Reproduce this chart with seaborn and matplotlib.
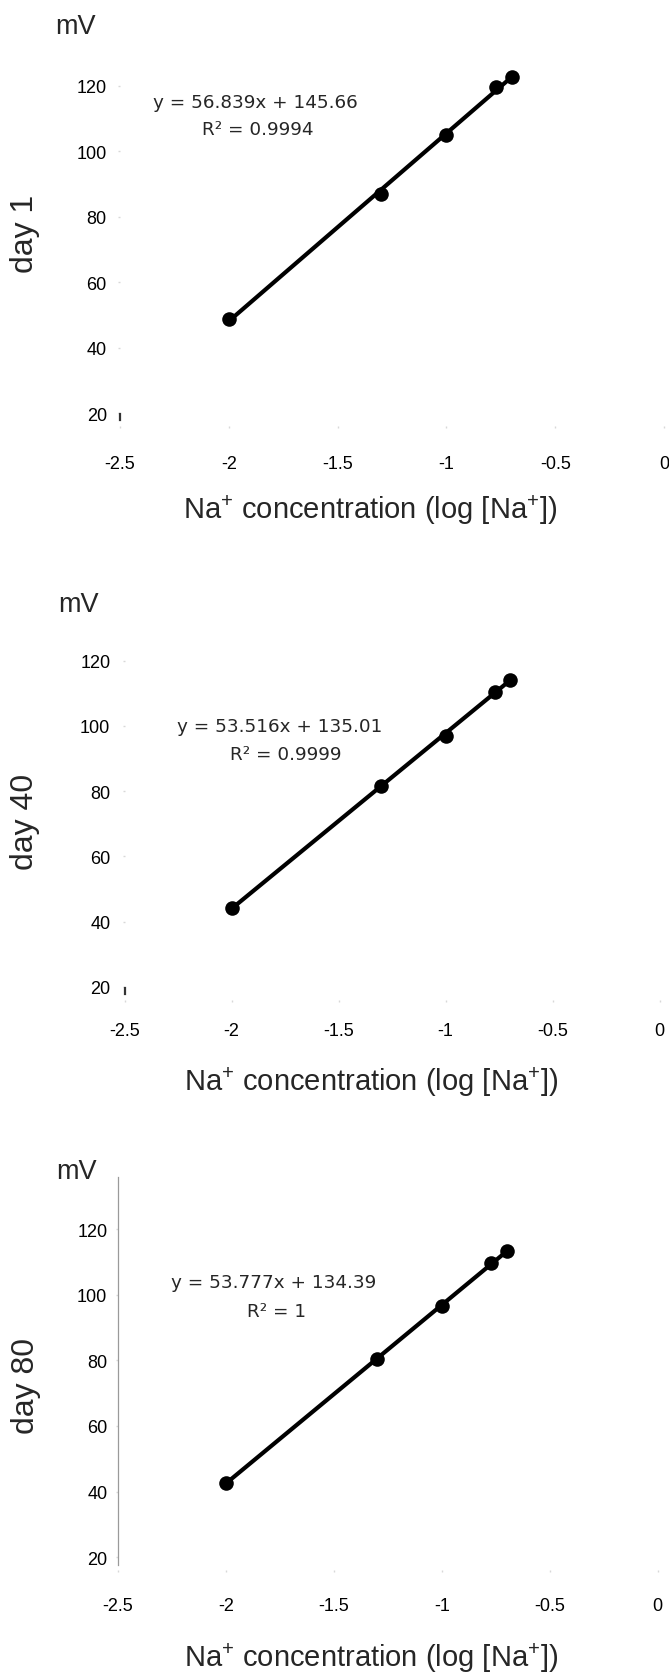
import matplotlib
matplotlib.use("Agg")
import matplotlib.pyplot as plt
import seaborn as sns
import pandas as pd

# ---------------- data ----------------
log_na = [-2.0, -1.301, -1.0, -0.77, -0.699]
mv_day1 = [48.7, 86.9, 104.9, 119.7, 122.8]
mv_day40 = [44.1, 81.7, 97.0, 110.5, 114.2]
mv_day80 = [42.5, 80.4, 96.6, 109.6, 113.2]
panel_names = ["day 1", "day 40", "day 80"]
equations = ["y = 56.839x + 145.66", "y = 53.516x + 135.01", "y = 53.777x + 134.39"]
r2_texts = ["R\u00b2 = 0.9994", "R\u00b2 = 0.9999", "R\u00b2 = 1"]
x_ticks = [-2.5, -2, -1.5, -1, -0.5, 0]
x_ticklabels = ["-2.5", "-2", "-1.5", "-1", "-0.5", "0"]
y_ticks = [20, 40, 60, 80, 100, 120]
y_ticklabels = ["20", "40", "60", "80", "100", "120"]
x_label = "Na$^{+}$ concentration (log [Na$^{+}$])"
y_unit = "mV"

series = [mv_day1, mv_day40, mv_day80]

# ---------------- style ----------------
W, H = 669, 1674
sns.set_theme(style="white")
plt.rcParams["font.family"] = ["Liberation Sans", "DejaVu Sans"]
plt.rcParams["mathtext.fontset"] = "custom"
plt.rcParams["mathtext.rm"] = "Liberation Sans"
plt.rcParams["mathtext.it"] = "Liberation Sans"
plt.rcParams["mathtext.bf"] = "Liberation Sans"
plt.rcParams["mathtext.default"] = "regular"

fig = plt.figure(figsize=(W / 100, H / 100), dpi=100)
fig.patch.set_facecolor("white")

# pixel layout of each panel: left, right, top, bottom of plotting area
layout = [
    dict(l=120.0, r=664.0, t=34.3, b=427.1, xpad=19.5, ypad=8.0, mv=(76, 27),
         day=(25, 234), xl=(370, 510), eq=(255, 103), r2=(258, 130), full_spine=False),
    dict(l=124.6, r=659.6, t=609.5, b=1001.0, xpad=14.5, ypad=8.8, mv=(79, 605),
         day=(25, 822), xl=(371, 1082), eq=(280, 727), r2=(286, 755), full_spine=False),
    dict(l=117.7, r=657.7, t=1177.5, b=1571.4, xpad=18.0, ypad=6.0, mv=(77, 1172),
         day=(26, 1386), xl=(371, 1658), eq=(274, 1283), r2=(277, 1312), full_spine=True),
]


def fx(px):
    return px / W


def fy(py):
    return 1 - py / H


for i, (vals, L) in enumerate(zip(series, layout)):
    ax = fig.add_axes([fx(L["l"]), fy(L["b"]), (L["r"] - L["l"]) / W, (L["b"] - L["t"]) / H])
    df = pd.DataFrame({"x": log_na, "y": vals})
    sns.regplot(data=df, x="x", y="y", ax=ax, ci=None, color="black",
                scatter_kws=dict(s=110, alpha=1, linewidths=0, zorder=3),
                line_kws=dict(lw=3, color="black", solid_capstyle="round"))
    ax.set_xlim(-2.5, 0)
    ax.set_ylim(16, 136)
    ax.set_xticks(x_ticks)
    ax.set_xticklabels(x_ticklabels)
    ax.set_yticks(y_ticks)
    ax.set_yticklabels(y_ticklabels)
    ax.set_facecolor("white")
    ax.grid(False)
    ax.tick_params(axis="x", length=1.5, width=1, color="#d8d8d8", pad=L["xpad"],
                   labelsize=13, labelcolor="black", bottom=True)
    ax.tick_params(axis="y", length=1.5, width=1, color="#d8d8d8", pad=L["ypad"],
                   labelsize=13, labelcolor="black", left=True)
    for s in ["top", "right", "bottom"]:
        ax.spines[s].set_visible(False)
    sp = ax.spines["left"]
    sp.set_visible(True)
    if L["full_spine"]:
        sp.set_color("#9a9a9a")
        sp.set_linewidth(0.9)
        sp.set_bounds(17.5, 136)
    else:
        sp.set_color("#333333")
        sp.set_linewidth(1.6)
        sp.set_bounds(17.8, 19.8)

    ax.set_xlabel(x_label, fontsize=21)
    ax.xaxis.set_label_coords(fx(L["xl"][0]), fy(L["xl"][1]), transform=fig.transFigure)
    ax.xaxis.label.set_verticalalignment("center")
    ax.set_ylabel(panel_names[i], fontsize=23)
    ax.yaxis.set_label_coords(fx(L["day"][0]), fy(L["day"][1]), transform=fig.transFigure)
    ax.yaxis.label.set_verticalalignment("center")

    fig.text(fx(L["mv"][0]), fy(L["mv"][1]), y_unit, fontsize=19.5, ha="center", va="center")
    fig.text(fx(L["eq"][0]), fy(L["eq"][1]), equations[i], fontsize=13.2,
             family="DejaVu Sans", ha="center", va="center")
    fig.text(fx(L["r2"][0]), fy(L["r2"][1]), r2_texts[i], fontsize=13.2,
             family="DejaVu Sans", ha="center", va="center")

fig.savefig("out.png", dpi=100, facecolor="white")
